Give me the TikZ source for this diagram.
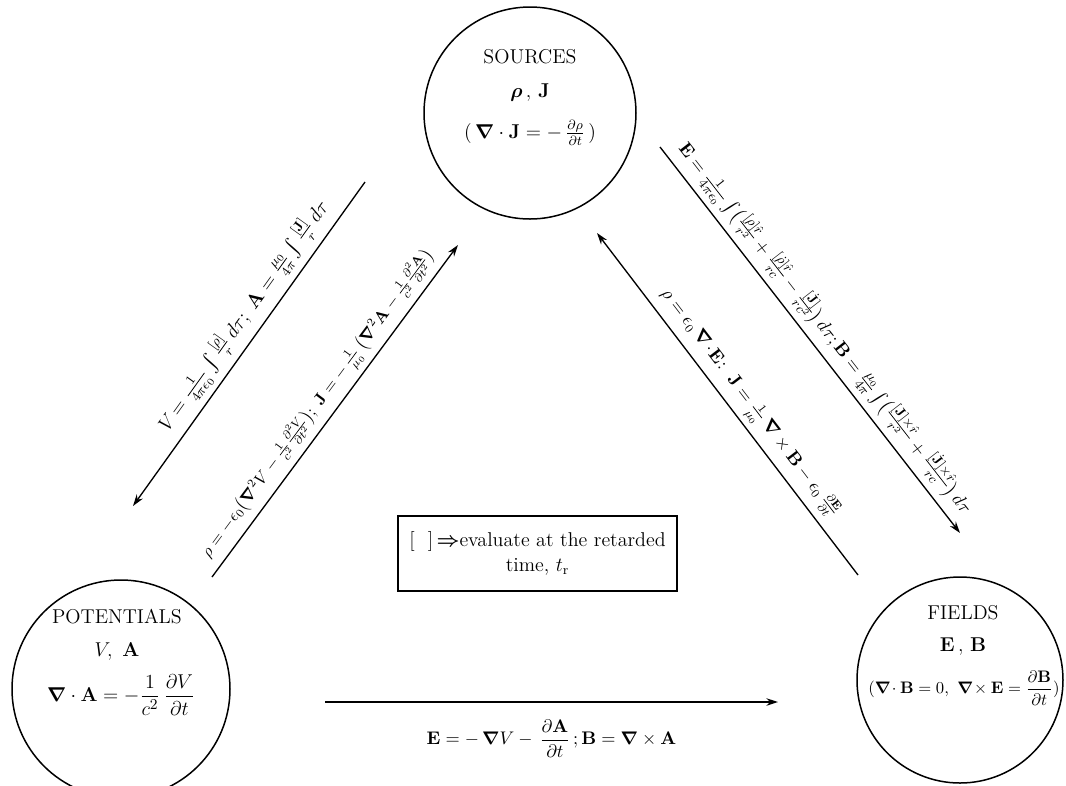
\documentclass[tikz,border=0pt]{standalone}
\usepackage{amsmath,bm}
\usetikzlibrary{arrows.meta}
\newcommand{\rr}{r}
\newcommand{\bnab}{\bm{\nabla}}
\begin{document}
\begin{tikzpicture}[x=0.6pt,y=-0.6pt,line width=0.8pt,
  >={Stealth[length=7pt,width=4.5pt]},
  circ/.style={draw,circle,line width=0.9pt,inner sep=0pt},
  ctext/.style={inner sep=0pt,anchor=center},
  ttl/.style={ctext,font=\fontsize{12}{14}\selectfont},
  lbl/.style={sloped,above,inner sep=3pt,font=\fontsize{11.5}{13}\selectfont}]
\useasboundingbox (0,0) rectangle (1066,785);
\fill[white] (0,0) rectangle (1066,785);

% circles
\node[circ,minimum size=127.2pt] (src) at (530,113) {};
\node[circ,minimum size=130.8pt] (pot) at (121,689) {};
\node[circ,minimum size=123.6pt] (fld) at (960,680) {};

% circle texts
\node[ttl] (srct) at (530,57) {SOURCES};
\node[ttl] (srcv) at (530,93) {$\bm{\rho}\,,\,\mathbf{J}$};
\node[ctext,font=\fontsize{11.5}{13}\selectfont] (srce) at (530,133) {$(\,\bnab\cdot\mathbf{J}=-\,\frac{\partial\rho}{\partial t}\,)$};

\node[ttl] (pott) at (117,617) {POTENTIALS};
\node[ttl] (potv) at (117,652) {$V,\ \mathbf{A}$};
\node[ctext,font=\fontsize{13}{15}\selectfont] (pote) at (121,695) {$\displaystyle \bnab\cdot\mathbf{A}=-\frac{1}{c^2}\,\frac{\partial V}{\partial t}$};

\node[ttl] (fldt) at (963,613) {FIELDS};
\node[ttl] (fldv) at (963,647) {$\mathbf{E}\,,\,\mathbf{B}$};
\node[ctext,font=\fontsize{10}{12}\selectfont] (flde) at (964,688) {$(\bnab\!\cdot\mathbf{B}=0,\ \bnab\!\times\mathbf{E}=\dfrac{\partial\mathbf{B}}{\partial t})$};

% arrow end points
\coordinate (lo1) at (133,506); \coordinate (lo2) at (365,182);
\coordinate (li1) at (212,577); \coordinate (li2) at (458,245);
\coordinate (ro1) at (660,147); \coordinate (ro2) at (960,533);
\coordinate (ri1) at (597,233); \coordinate (ri2) at (858,575);
\coordinate (b1) at (325,702);  \coordinate (b2) at (778,702);

% potentials <- sources
\draw[<-] (lo1) -- (lo2) node[lbl,pos=0.55]
 {$V\!=\frac{1}{4\pi\epsilon_0}\int\frac{[\rho]}{\rr}\,d\tau;\ \mathbf{A}=\frac{\mu_0}{4\pi}\int\frac{[\mathbf{J}]}{\rr}\,d\tau$};
% potentials -> sources
\draw[->] (li1) -- (li2) node[lbl,pos=0.49,font=\fontsize{10.3}{12}\selectfont]
 {$\rho=-\epsilon_0\big(\bnab^2V-\frac{1}{c^2}\frac{\partial^2V}{\partial t^2}\big);\ \mathbf{J}=-\,\frac{1}{\mu_0}\,\big(\bnab^2\mathbf{A}-\frac{1}{c^2}\frac{\partial^2\mathbf{A}}{\partial t^2}\big)$};
% sources -> fields
\draw[->] (ro1) -- (ro2) node[lbl,pos=0.5,font=\fontsize{11}{13}\selectfont]
 {$\mathbf{E}=\frac{1}{4\pi\epsilon_0}\int\!\big(\frac{[\rho]\hat{\rr}}{\rr^2}+\frac{[\dot\rho]\hat{\rr}}{\rr c}-\frac{[\dot{\mathbf{J}}]}{\rr c^2}\big)\,d\tau;\mathbf{B}=\frac{\mu_0}{4\pi}\int\!\big(\frac{[\mathbf{J}]\times\hat{\rr}}{\rr^2}+\frac{[\dot{\mathbf{J}}]\times\hat{\rr}}{\rr c}\big)\,d\tau$};
% fields -> sources
\draw[<-] (ri1) -- (ri2) node[lbl,pos=0.53,font=\fontsize{10.5}{12}\selectfont]
 {$\rho=\epsilon_0\,\bnab\!\cdot\!\mathbf{E}\!:\ \mathbf{J}=\frac{1}{\mu_0}\,\bnab\times\mathbf{B}-\epsilon_0\,\frac{\partial\mathbf{E}}{\partial t}$};
% potentials -> fields
\draw[->] (b1) -- (b2) node[midway,below=7pt,font=\fontsize{11}{13}\selectfont]
 {$\mathbf{E}=-\,\bnab V-\,\dfrac{\partial\mathbf{A}}{\partial t}\,;\mathbf{B}=\bnab\times\mathbf{A}$};

% note box
\node[draw,line width=0.8pt,minimum width=167.4pt,minimum height=45pt,align=center,
  font=\fontsize{12}{14.5}\selectfont] (note) at (537.5,553.5)
 {[\ \ ]\,$\bm{\Rightarrow}$evaluate at the retarded\\ time, $t_{\mathrm{r}}$};
\end{tikzpicture}
\end{document}
